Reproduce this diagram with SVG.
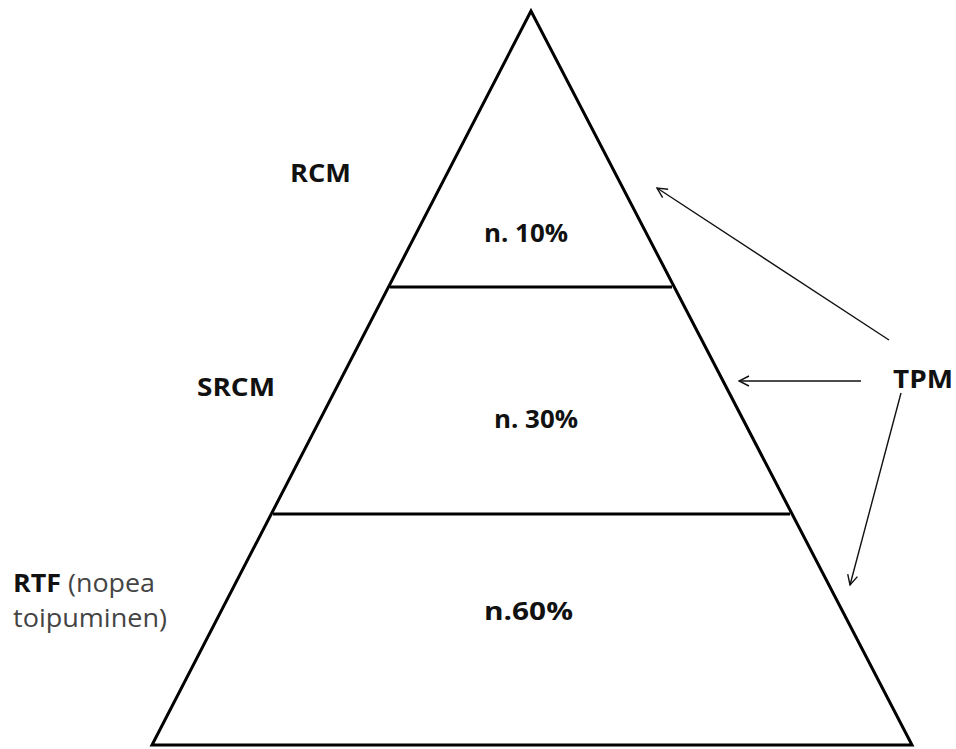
<svg xmlns="http://www.w3.org/2000/svg" width="956" height="749" viewBox="0 0 956 749">
<defs>
<style>
.edge{fill:none;stroke:#000;stroke-width:3;stroke-linejoin:miter}
.div{stroke:#000;stroke-width:3}
.arr{fill:none;stroke:#111;stroke-width:1.4}
text{font-family:"Open Sans","Liberation Sans",sans-serif;font-size:25px;fill:#111}
.b{font-weight:bold}
.g{fill:#444;font-weight:normal}
</style>
<marker id="ah" viewBox="0 0 12 12" refX="11" refY="6" markerWidth="12" markerHeight="12" markerUnits="userSpaceOnUse" orient="auto">
<path d="M1,1 L11,6 L1,11" fill="none" stroke="#111" stroke-width="1.4"/>
</marker>
</defs>
<rect width="956" height="749" fill="#fff"/>
<g id="pyramid">
<path class="edge" d="M531,11 L152,745 L912,745 Z"/>
<line class="div" x1="390" y1="287" x2="672" y2="287"/>
<line class="div" x1="273" y1="514" x2="790" y2="514"/>
</g>
<g id="rcm"><text class="b" x="290" y="182" textLength="61" lengthAdjust="spacingAndGlyphs">RCM</text></g>
<g id="srcm"><text class="b" x="197" y="396" textLength="78" lengthAdjust="spacingAndGlyphs">SRCM</text></g>
<g id="rtf"><text x="13" y="592" textLength="142" lengthAdjust="spacingAndGlyphs"><tspan class="b">RTF</tspan><tspan class="g"> (nopea</tspan></text><text class="g" x="13" y="627" textLength="154" lengthAdjust="spacingAndGlyphs">toipuminen)</text></g>
<g id="p10"><text class="b" x="484" y="242" textLength="84" lengthAdjust="spacingAndGlyphs">n. 10%</text></g>
<g id="p30"><text class="b" x="494" y="428" textLength="84" lengthAdjust="spacingAndGlyphs">n. 30%</text></g>
<g id="p60"><text class="b" x="484" y="620" textLength="89" lengthAdjust="spacingAndGlyphs">n.60%</text></g>
<g id="tpm"><text class="b" x="893" y="388" textLength="60" lengthAdjust="spacingAndGlyphs">TPM</text></g>
<g id="connectors">
<line class="arr" x1="889" y1="340" x2="657" y2="188" marker-end="url(#ah)"/>
<line class="arr" x1="861" y1="381" x2="739" y2="381" marker-end="url(#ah)"/>
<line class="arr" x1="901" y1="393" x2="850" y2="585" marker-end="url(#ah)"/>
</g>
</svg>
